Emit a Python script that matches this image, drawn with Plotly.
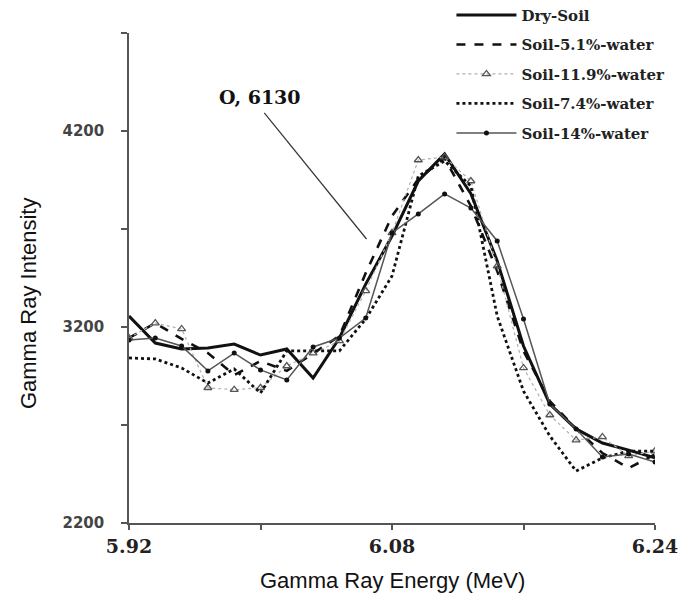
import plotly.graph_objects as go

energy = [5.92, 5.936, 5.952, 5.968, 5.984, 6.000, 6.016, 6.032, 6.048, 6.064, 6.080,
          6.096, 6.112, 6.128, 6.144, 6.160, 6.176, 6.192, 6.208, 6.224, 6.240]

dry_soil = [3256, 3118, 3088, 3093, 3113, 3057, 3088, 2940, 3144, 3419, 3664,
            3945, 4083, 3880, 3537, 3103, 2807, 2680, 2608, 2572, 2532]
soil_5_1 = [3144, 3220, 3139, 3067, 2955, 3026, 2976, 3067, 3154, 3475, 3766,
            3955, 4062, 3817, 3486, 3078, 2822, 2680, 2557, 2480, 2550]
soil_11_9 = [3144, 3220, 3190, 2890, 2880, 2890, 3001, 3067, 3129, 3384, 3680,
             4052, 4067, 3945, 3511, 2991, 2751, 2623, 2639, 2542, 2567]
soil_7_4 = [3042, 3037, 2991, 2914, 2986, 2863, 3078, 3078, 3078, 3241, 3460,
            3970, 4047, 3919, 3256, 2873, 2644, 2465, 2532, 2567, 2567]
soil_14 = [3134, 3144, 3103, 2976, 3067, 2981, 2930, 3098, 3144, 3246, 3680,
           3777, 3879, 3807, 3639, 3241, 2807, 2680, 2537, 2552, 2511]

names = ["Dry-Soil", "Soil-5.1%-water", "Soil-11.9%-water", "Soil-7.4%-water", "Soil-14%-water"]

y_ticks = [2200, 2700, 3200, 3700, 4200, 4700]
y_ticktext = ["2200", "", "3200", "", "4200", ""]
x_ticks = [5.92, 6.00, 6.08, 6.16, 6.24]
x_ticktext = ["5.92", "", "6.08", "", "6.24"]

peak_label = "O, 6130"
leader_x = [6.0023, 6.0645]
leader_y = [4292, 3649]


def bold(s):
    return "<b>" + s + "</b>" if s else ""


fig = go.Figure()

fig.add_trace(go.Scatter(x=energy, y=dry_soil, name=bold(names[0]), mode="lines",
                         line=dict(color="#111111", width=3), legendgroup="a"))
fig.add_trace(go.Scatter(x=energy, y=soil_5_1, name=bold(names[1]), mode="lines",
                         line=dict(color="#111111", width=2.6, dash="dash"), legendgroup="b"))
fig.add_trace(go.Scatter(x=energy, y=soil_11_9, name=bold(names[2]), mode="lines+markers",
                         line=dict(color="#b0b0b0", width=1.2, dash="dot"),
                         marker=dict(symbol="triangle-up-open", size=7, color="#555555",
                                     line=dict(width=1.3, color="#555555")), legendgroup="c"))
fig.add_trace(go.Scatter(x=energy, y=soil_7_4, name=bold(names[3]), mode="lines",
                         line=dict(color="#111111", width=2.8, dash="dot"), legendgroup="d"))
fig.add_trace(go.Scatter(x=energy, y=soil_14, name=bold(names[4]), mode="lines+markers",
                         line=dict(color="#555555", width=1.5),
                         marker=dict(symbol="circle", size=5, color="#111111"), legendgroup="e"))

fig.add_trace(go.Scatter(x=leader_x, y=leader_y, mode="lines", showlegend=False,
                         hoverinfo="skip", line=dict(color="#333333", width=1.2)))

fig.add_annotation(x=leader_x[0], y=leader_y[0], xref="x", yref="y", text=bold(peak_label),
                   showarrow=False, xanchor="center", yanchor="bottom", yshift=3, xshift=-4,
                   font=dict(family="DejaVu Serif", size=19, color="#111111"))

fig.add_annotation(x=-0.19, y=0.449, xref="paper", yref="paper", text="Gamma Ray Intensity",
                   textangle=-90, showarrow=False, xanchor="center", yanchor="middle",
                   font=dict(family="Liberation Sans", size=22, color="#111111"))

fig.add_annotation(x=0.5, y=-0.118, xref="paper", yref="paper", text="Gamma Ray Energy (MeV)",
                   showarrow=False, xanchor="center", yanchor="middle",
                   font=dict(family="Liberation Sans", size=22, color="#111111"))

fig.update_layout(
    width=686, height=598,
    margin=dict(l=121, r=39, t=25, b=83, autoexpand=False),
    paper_bgcolor="white", plot_bgcolor="white",
    showlegend=True,
    legend=dict(x=0.613, y=1.07, xanchor="left", yanchor="top",
                font=dict(family="DejaVu Serif", size=15, color="#222222"),
                tracegroupgap=7, traceorder="grouped", itemwidth=60,
                bgcolor="rgba(255,255,255,0)"),
    xaxis=dict(range=[5.92, 6.24], tickvals=x_ticks, ticktext=[bold(t) for t in x_ticktext],
               automargin=False,
               showgrid=False, zeroline=False, showline=True, linecolor="#555555", linewidth=1.5,
               ticks="outside", ticklen=5, tickcolor="#555555", tickwidth=1.5,
               tickfont=dict(family="DejaVu Serif", size=19, color="#222222")),
    yaxis=dict(range=[2200, 4700], tickvals=y_ticks, ticktext=[bold(t) for t in y_ticktext],
               automargin=False, ticklabelstandoff=14,
               showgrid=False, zeroline=False, showline=True, linecolor="#555555", linewidth=1.5,
               ticks="outside", ticklen=6, tickcolor="#555555", tickwidth=1.5,
               tickfont=dict(family="DejaVu Sans", size=15, color="#444444")),
)

fig.write_html("out.html")
